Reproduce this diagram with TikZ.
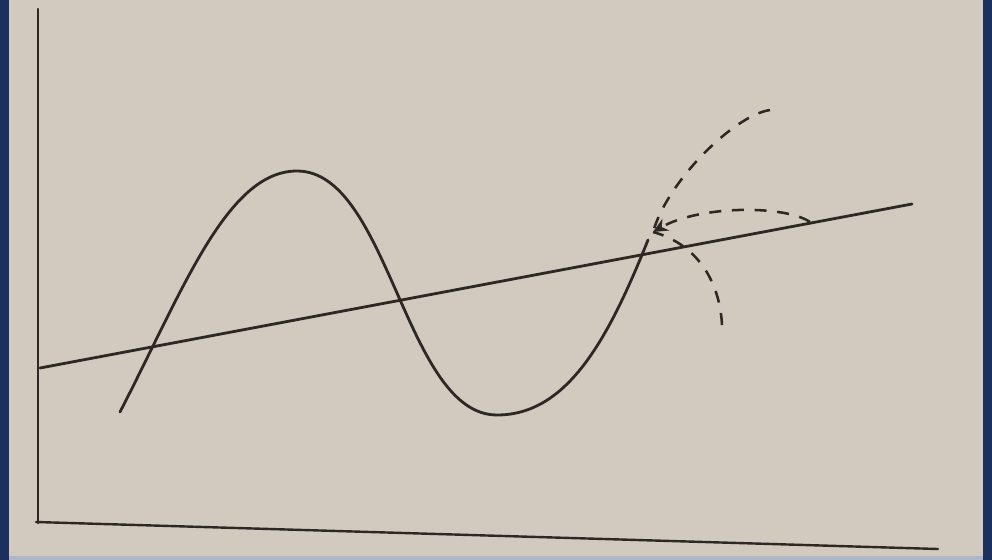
\documentclass[tikz,border=0pt]{standalone}
\usetikzlibrary{arrows.meta}
\definecolor{frameblue}{RGB}{28,48,96}
\definecolor{paper}{RGB}{210,201,191}
\definecolor{ink}{RGB}{45,40,36}
\definecolor{bottomstrip}{RGB}{175,182,198}
\tikzset{
  solidline/.style={ink, line width=2.1pt, line cap=round, line join=round},
  axisline/.style={ink, line width=1.8pt, line cap=round},
  dashline/.style={ink, line width=1.9pt, dash pattern=on 9pt off 8pt},
  tiparrow/.style={-{Stealth[length=11pt,width=10pt,inset=3.5pt]}}
}
\begin{document}
\begin{tikzpicture}[x=0.75pt,y=-0.75pt]
\useasboundingbox (0,0) rectangle (992,560);
\fill[frameblue] (0,0) rectangle (992,560);
\fill[bottomstrip] (9,555) rectangle (983,560);
\fill[paper] (9,0) rectangle (983,556);
% axes
\coordinate (O) at (38,523);
\coordinate (Ytop) at (38,9);
\coordinate (Xstart) at (36,522);
\coordinate (Xend) at (938,549);
\draw[axisline] (Ytop) -- (O);
\draw[axisline] (Xstart) -- (Xend);
% straight line
\coordinate (L1) at (40,368);
\coordinate (L2) at (912,204);
\draw[solidline] (L1) -- (L2);
% wave
\coordinate (W0) at (120,412);
\coordinate (Wpeak) at (297,171);
\coordinate (Wtrough) at (497,415);
\coordinate (Wend) at (648,240);
\draw[solidline] (W0) .. controls (183,290) and (227,171) .. (Wpeak)
  .. controls (389,171) and (405,415) .. (Wtrough)
  .. controls (567,415) and (608,340) .. (Wend);
% dashed arcs
\coordinate (P) at (653,232);
\coordinate (A) at (770,110);
\coordinate (R) at (810,222);
\coordinate (B) at (722,325);
\draw[dashline] (A) .. controls (735,115) and (668,180) .. (P);
\draw[dashline, tiparrow] (R) .. controls (785,205) and (700,205) .. (P);
\draw[dashline] (B) .. controls (720,285) and (700,245) .. (P);
\end{tikzpicture}
\end{document}
